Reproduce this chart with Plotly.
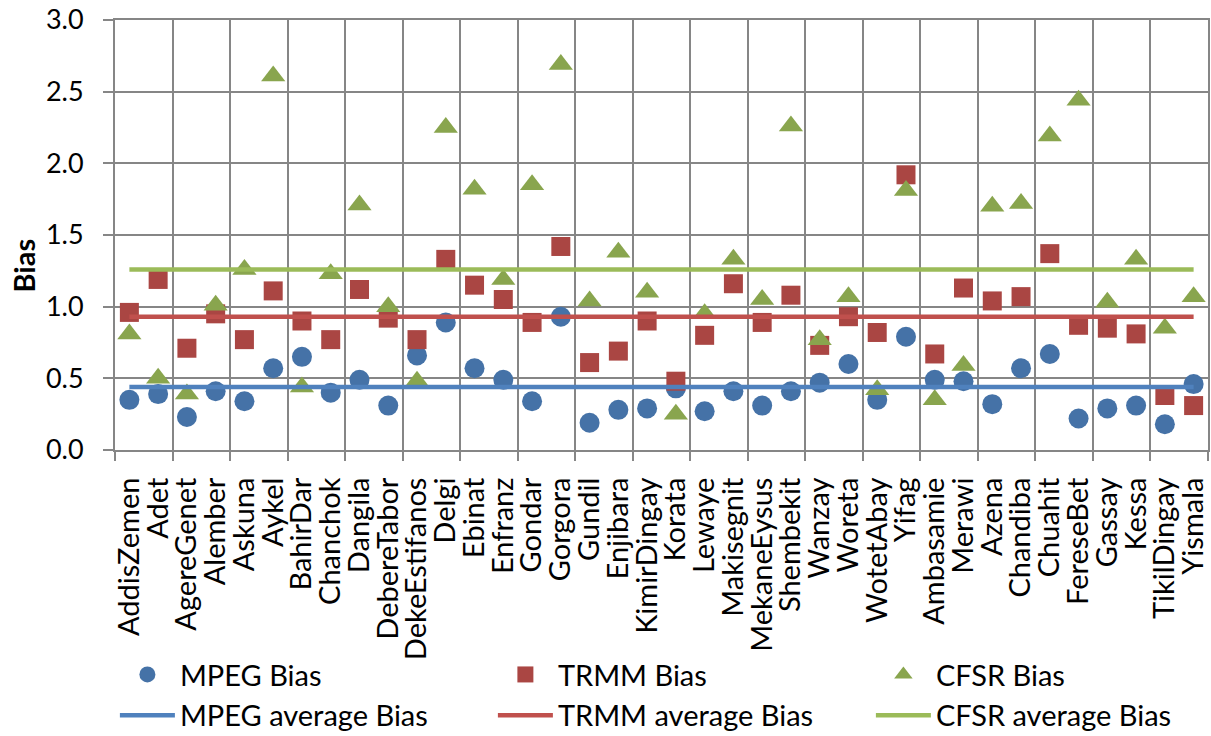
import plotly.graph_objects as go

stations = ["AddisZemen", "Adet", "AgereGenet", "Alember", "Askuna", "Aykel", "BahirDar",
            "Chanchok", "Dangila", "DebereTabor", "DekeEstifanos", "Delgi", "Ebinat", "Enfranz",
            "Gondar", "Gorgora", "Gundil", "Enjibara", "KimirDingay", "Korata", "Lewaye",
            "Makisegnit", "MekaneEysus", "Shembekit", "Wanzay", "Woreta", "WotetAbay", "Yifag",
            "Ambasamie", "Merawi", "Azena", "Chandiba", "Chuahit", "FereseBet", "Gassay",
            "Kessa", "TikilDingay", "Yismala"]

mpeg_bias = [0.35, 0.39, 0.23, 0.41, 0.34, 0.57, 0.65, 0.40, 0.49, 0.31, 0.66, 0.89, 0.57,
             0.49, 0.34, 0.93, 0.19, 0.28, 0.29, 0.43, 0.27, 0.41, 0.31, 0.41, 0.47, 0.60,
             0.35, 0.79, 0.49, 0.48, 0.32, 0.57, 0.67, 0.22, 0.29, 0.31, 0.18, 0.46]
trmm_bias = [0.96, 1.19, 0.71, 0.95, 0.77, 1.11, 0.90, 0.77, 1.12, 0.92, 0.77, 1.33, 1.15,
             1.05, 0.89, 1.42, 0.61, 0.69, 0.90, 0.48, 0.80, 1.16, 0.89, 1.08, 0.73, 0.93,
             0.82, 1.92, 0.67, 1.13, 1.04, 1.07, 1.37, 0.87, 0.85, 0.81, 0.38, 0.31]
cfsr_bias = [0.81, 0.50, 0.39, 1.01, 1.26, 2.61, 0.44, 1.23, 1.71, 1.00, 0.48, 2.25, 1.82,
             1.19, 1.85, 2.69, 1.04, 1.38, 1.10, 0.25, 0.95, 1.33, 1.05, 2.26, 0.77, 1.07,
             0.42, 1.81, 0.35, 0.59, 1.70, 1.72, 2.19, 2.44, 1.03, 1.33, 0.85, 1.07]

mpeg_avg = 0.44
trmm_avg = 0.93
cfsr_avg = 1.26

y_ticks = [0.0, 0.5, 1.0, 1.5, 2.0, 2.5, 3.0]

FONT = "Lato"
GRID = "#868686"
xs = list(range(len(stations)))
x_ends = [xs[0], xs[-1]]

fig = go.Figure()
fig.add_trace(go.Scatter(x=xs, y=mpeg_bias, mode="markers", name="MPEG Bias",
                         marker=dict(symbol="circle", size=20, color="#4572A7")))
fig.add_trace(go.Scatter(x=xs, y=trmm_bias, mode="markers", name="TRMM Bias",
                         marker=dict(symbol="square", size=19, color="#AA4643")))
fig.add_trace(go.Scatter(x=xs, y=cfsr_bias, mode="markers", name="CFSR Bias",
                         marker=dict(symbol="triangle-up", size=21, color="#89A54E")))
fig.add_trace(go.Scatter(x=x_ends, y=[mpeg_avg, mpeg_avg], mode="lines", name="MPEG average Bias",
                         line=dict(color="#4F81BD", width=4.5)))
fig.add_trace(go.Scatter(x=x_ends, y=[trmm_avg, trmm_avg], mode="lines", name="TRMM average Bias",
                         line=dict(color="#C0504D", width=4.5)))
fig.add_trace(go.Scatter(x=x_ends, y=[cfsr_avg, cfsr_avg], mode="lines", name="CFSR average Bias",
                         line=dict(color="#9BBB59", width=4.5)))

fig.update_layout(
    width=1211, height=736,
    margin=dict(l=115, r=3, t=20, b=286, autoexpand=False),
    paper_bgcolor="white", plot_bgcolor="white",
    font=dict(family=FONT, size=29, color="black"),
    showlegend=True,
    legend=dict(orientation="h", x=-0.0001, xanchor="left", y=-0.463, yanchor="top",
                entrywidth=308, entrywidthmode="pixels", itemwidth=55,
                font=dict(family=FONT, size=29, color="black"),
                bgcolor="rgba(0,0,0,0)", tracegroupgap=0),
    annotations=[dict(text="<b>Bias</b>", textangle=-90, xref="paper", yref="paper",
                      x=(22.5 - 115) / 1093.0, y=(450 - 266) / 430.0,
                      xanchor="center", yanchor="middle", showarrow=False,
                      font=dict(family=FONT, size=29, color="black"))],
)

fig.update_xaxes(
    range=[-0.5, len(stations) - 0.5],
    tickmode="array", tickvals=xs, ticktext=stations, tickangle=-90,
    ticks="", showgrid=False, zeroline=False,
    ticklabelstandoff=14,
    tickfont=dict(family=FONT, size=29, color="black"),
    showline=True, linecolor=GRID, linewidth=2, mirror=True,
    minor=dict(tickmode="linear", tick0=-0.5, dtick=2, showgrid=True, gridcolor=GRID,
               gridwidth=2, ticks="outside", ticklen=9, tickcolor=GRID, tickwidth=2),
)

fig.update_yaxes(
    range=[0, 3], tickmode="array", tickvals=y_ticks,
    ticktext=[f"{v:.1f}" for v in y_ticks],
    showgrid=True, gridcolor=GRID, gridwidth=2, zeroline=False,
    ticks="outside", ticklen=10, tickcolor=GRID, tickwidth=2,
    ticklabelstandoff=14,
    tickfont=dict(family=FONT, size=27, color="black"),
    showline=True, linecolor=GRID, linewidth=2, mirror=True,
)

fig.write_html("out.html")
